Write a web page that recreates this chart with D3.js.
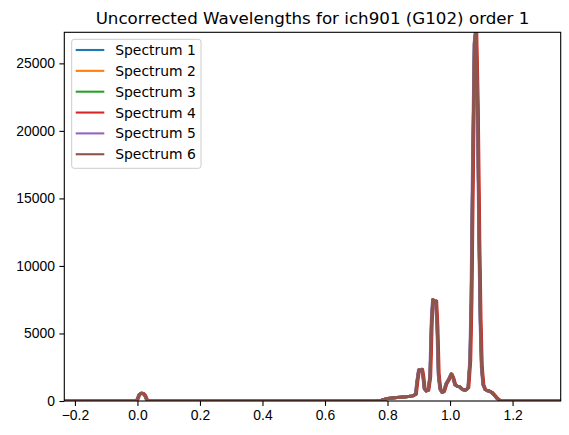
<!DOCTYPE html>
<html>
<head>
<meta charset="utf-8">
<script src="https://cdn.jsdelivr.net/npm/d3@7"></script>
<style>
  body { margin: 0; background: #fff; }
  svg { font-family: "DejaVu Sans", sans-serif; }
  .tick text { font-size: 13.9px; fill: #000; }
  .tick line { stroke: #000; stroke-width: 1.1; }
</style>
</head>
<body>
<div id="chart"></div>
<script>

// wavelength grid (microns) and extracted flux
var wave = [-0.234, -0.1, -0.01, -0.004, 0.0, 0.005, 0.012, 0.018, 0.024, 0.030, 0.036,
  0.2, 0.5, 0.76, 0.78, 0.80, 0.83, 0.86, 0.88, 0.890, 0.895, 0.900, 0.906, 0.910, 0.914,
  0.918, 0.924, 0.930, 0.936, 0.941, 0.945, 0.950, 0.955, 0.959, 0.963, 0.968, 0.974,
  0.980, 0.988, 0.996, 1.004, 1.010, 1.016, 1.022, 1.030, 1.040, 1.048, 1.054, 1.058,
  1.064, 1.068, 1.073, 1.078, 1.083, 1.088, 1.093, 1.097, 1.101, 1.106, 1.112, 1.118,
  1.126, 1.134, 1.142, 1.150, 1.158, 1.166, 1.25, 1.354];

var flux = [0, 0, 0, 0, 150, 450, 580, 560, 400, 80, 0,
  0, 0, 0, 60, 180, 260, 320, 380, 500, 1500, 2300, 2250, 2350, 1800,
  900, 750, 800, 1800, 6000, 7500, 7300, 7400, 5500, 2000, 900, 650,
  700, 1300, 1600, 2000, 1700, 1200, 1100, 1050, 850, 800, 900, 1000,
  3000, 7500, 18000, 26500, 27600, 22000, 12000, 6000, 2500, 1200, 850, 780,
  720, 620, 420, 200, 60, 0, 0, 0];

// each spectrum has its own (uncorrected) wavelength zero point
var names = ["Spectrum 1", "Spectrum 2", "Spectrum 3", "Spectrum 4", "Spectrum 5", "Spectrum 6"];
var waveShift = [0.0, 0.0005, 0.0, 0.0022, -0.001, 0.0];
var colors = ["#1f77b4", "#ff7f0e", "#2ca02c", "#d62728", "#9467bd", "#8c564b"];

var xTicks = [-0.2, 0.0, 0.2, 0.4, 0.6, 0.8, 1.0, 1.2];
var yTicks = [0, 5000, 10000, 15000, 20000, 25000];
var xDomain = [-0.234, 1.354];
var yDomain = [0, 27300];

var W = 569, H = 435;
var margin = {top: 32.3, right: 8.3, bottom: 34, left: 64.3};
var plot_w = W - margin.left - margin.right;
var plot_h = H - margin.top - margin.bottom;

var svg = d3.select("#chart").append("svg")
  .attr("width", W)
  .attr("height", H);

var g = svg.append("g")
  .attr("transform", "translate(" + margin.left + "," + margin.top + ")");

var x = d3.scaleLinear().domain(xDomain).range([0, plot_w]);
var y = d3.scaleLinear().domain(yDomain).range([plot_h, 0]);

g.append("clipPath").attr("id", "clip")
  .append("rect").attr("width", plot_w).attr("height", plot_h);

var fmtX = function(d) { return d3.format(".1f")(d).replace("-", "\u2212"); };

// x axis
g.append("g")
  .attr("transform", "translate(0," + plot_h + ")")
  .call(d3.axisBottom(x).tickValues(xTicks).tickFormat(fmtX).tickSize(4.9).tickPadding(4.5).tickSizeOuter(0))
  .call(function(a) { a.select(".domain").remove(); });

// y axis
g.append("g")
  .call(d3.axisLeft(y).tickValues(yTicks).tickFormat(d3.format("d")).tickSize(4.9).tickPadding(4.5).tickSizeOuter(0))
  .call(function(a) { a.select(".domain").remove(); });

// spectra
var line = d3.line()
  .x(function(d) { return x(d[0]); })
  .y(function(d) { return y(d[1]); });

var lines = g.append("g").attr("clip-path", "url(#clip)");
names.forEach(function(name, i) {
  var pts = wave.map(function(w, j) { return [w + waveShift[i], flux[j]]; });
  lines.append("path")
    .attr("d", line(pts))
    .attr("fill", "none")
    .attr("stroke", colors[i])
    .attr("stroke-width", 3)
    .attr("stroke-linejoin", "round");
});

// frame
g.append("rect")
  .attr("width", plot_w).attr("height", plot_h)
  .attr("fill", "none").attr("stroke", "#000").attr("stroke-width", 1.1);

// title
svg.append("text")
  .attr("x", margin.left + plot_w / 2)
  .attr("y", 23.5)
  .attr("text-anchor", "middle")
  .style("font-size", "16.7px")
  .text("Uncorrected Wavelengths for ich901 (G102) order 1");

// legend
var leg = svg.append("g").attr("transform", "translate(71.7,39.3)");
leg.append("rect")
  .attr("width", 129.3).attr("height", 129)
  .attr("rx", 2.5)
  .attr("fill", "#fff").attr("fill-opacity", 0.8)
  .attr("stroke", "#ccc").attr("stroke-width", 1);

names.forEach(function(name, i) {
  var ly = 10.7 + i * 20.85;
  leg.append("line")
    .attr("x1", 4).attr("x2", 32.6)
    .attr("y1", ly).attr("y2", ly)
    .attr("stroke", colors[i]).attr("stroke-width", 2.1);
  leg.append("text")
    .attr("x", 43.5).attr("y", ly + 5)
    .style("font-size", "13.9px")
    .text(name);
});

</script>
</body>
</html>
